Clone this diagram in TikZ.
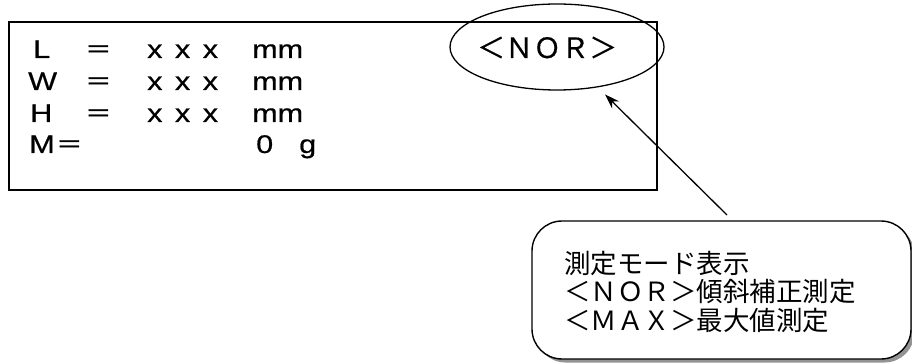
\documentclass[tikz,border=0pt]{standalone}
\usepackage{fontspec}
\setmainfont{Liberation Sans}
\newfontfamily\dispfont[FakeStretch=1.2,FakeBold=0.6]{Liberation Sans}
\newfontfamily\jpwide[FakeStretch=1.1,FakeBold=0.6]{Noto Sans CJK JP}
\newfontfamily\jpmode[FakeBold=0.4]{Noto Sans CJK JP}
\newfontfamily\jp{Noto Sans CJK JP}
\usetikzlibrary{shapes.geometric,arrows.meta,shadows}
\begin{document}
\begin{tikzpicture}[x=1pt,y=-1pt,
  dtxt/.style={inner sep=0pt, anchor=base west, font=\dispfont\fontsize{25.5}{28}\selectfont},
  eqtxt/.style={inner sep=0pt, anchor=base west, font=\jpwide\fontsize{24}{28}\selectfont},
  ctxt/.style={inner sep=0pt, anchor=base west, font=\jp\fontsize{26.5}{28}\selectfont},
  frame/.style={draw, line width=1.6pt, inner sep=0pt},
  connector/.style={draw, line width=1.3pt, -{Stealth[length=15pt,width=10pt]}}]
\useasboundingbox (0,0) rectangle (912,363);
% display frame
\node[frame, minimum width=648pt, minimum height=168pt, anchor=north west] (disp) at (8,21) {};
% rows
\node[dtxt] (rL) at (33,58) {L};
\node[eqtxt] (eqL) at (85,58) {＝};
\node[dtxt] (xL) at (147,58) {x\hspace{12.5pt}x\hspace{12.5pt}x};
\node[dtxt] (uL) at (252,58) {mm};
\node[dtxt] (rW) at (28,90) {W};
\node[eqtxt] (eqW) at (85,90) {＝};
\node[dtxt] (xW) at (147,90) {x\hspace{12.5pt}x\hspace{12.5pt}x};
\node[dtxt] (uW) at (252,90) {mm};
\node[dtxt] (rH) at (30,122) {H};
\node[eqtxt] (eqH) at (85,122) {＝};
\node[dtxt] (xH) at (147,122) {x\hspace{12.5pt}x\hspace{12.5pt}x};
\node[dtxt] (uH) at (252,122) {mm};
\node[dtxt] (rM) at (29,153) {M};
\node[eqtxt] (eqM) at (56,153) {＝};
\node[dtxt] (vM) at (256,153) {0};
\node[dtxt] (uM) at (299,153) {g};
% mode ellipse
\node[draw, ellipse, line width=1.3pt, minimum width=214pt, minimum height=86pt, inner sep=0pt] (mode) at (557,47) {};
\node[inner sep=0pt, anchor=base west, font=\jpmode\fontsize{28}{30}\selectfont] (modetxt) at (477,58) {＜ＮＯＲ＞};
% callout
\node[draw, line width=1.4pt, rounded corners=30pt, fill=white, minimum width=379pt, minimum height=138pt,
  drop shadow={shadow xshift=3.5pt, shadow yshift=-3.5pt, fill=gray!85, opacity=1}] (callout) at (721.5,290) {};
\node[ctxt] (c1) at (564,273) {測定モード表示};
\node[ctxt] (c2) at (564,301) {＜ＮＯＲ＞傾斜補正測定};
\node[ctxt] (c3) at (564,330) {＜ＭＡＸ＞最大値測定};
% arrow
\coordinate (tail) at (727,215);
\draw[connector, shorten >=10pt] (tail) -- (mode);
\end{tikzpicture}
\end{document}
